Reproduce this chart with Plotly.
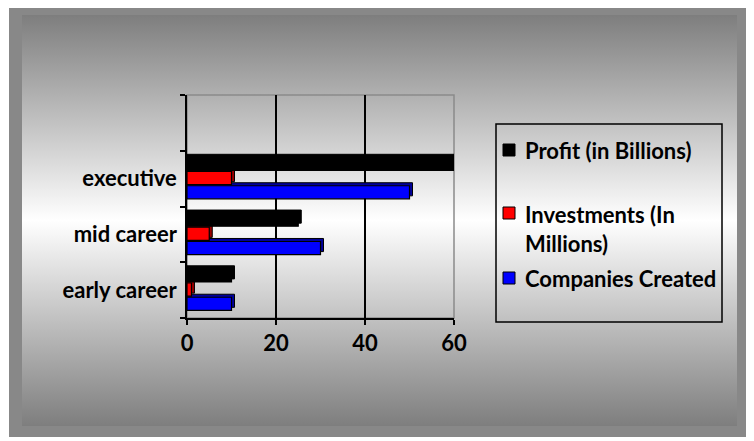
import base64
import plotly.graph_objects as go

# ---- data ----
categories = ["early career", "mid career", "executive", " "]
series_names = ["Companies Created", "Investments (In Millions)", "Profit (in Billions)"]
legend_labels = ["Companies Created", "Investments (In<br>Millions)", "Profit (in Billions)"]
companies = [10, 30, 50]
investments = [1, 5, 10]
profit = [10, 25, 60]
x_ticks = [0, 20, 40, 60]
colors = ["#0000ff", "#ff0000", "#000000"]
side_colors = ["#00009a", "#9a0000", "#000000"]

W, H = 754, 441
OFF = 8  # page body margin offset
L, R, T, B = 187 - OFF, 454 - OFF, 95 - OFF, 318 - OFF  # plot area in figure pixels

def px(x):
    return (x - OFF - L) / (R - L)

def py(y):
    return (B - (y - OFF)) / (B - T)

FONT = "Lato"
FS = 22

fx, fy = 9 - OFF, 4 - OFF
ix, iy = 22 - OFF, 15 - OFF
svg = f'''<svg xmlns="http://www.w3.org/2000/svg" width="{W}" height="{H}" viewBox="0 0 {W} {H}" preserveAspectRatio="none">
<defs><linearGradient id="g" x1="0" y1="0" x2="0" y2="1">
<stop offset="0" stop-color="#7e7e7e"/><stop offset="0.5" stop-color="#ffffff"/><stop offset="1" stop-color="#7e7e7e"/>
</linearGradient></defs>
<rect x="0" y="0" width="{W}" height="{H}" fill="#ffffff"/>
<rect x="{fx}" y="{fy}" width="739" height="433" fill="#888888"/>
<rect x="{ix}" y="{iy}" width="715" height="411" fill="url(#g)"/>
</svg>'''
src = "data:image/svg+xml;base64," + base64.b64encode(svg.encode()).decode()

# bar geometry (category units) and 3D depth
bar_w = 0.235
centers = [-0.245, 0.01, 0.265]
unit_px_x = (R - L) / 60.0
unit_px_y = (B - T) / 4.0
depth_x = 3.0 / unit_px_x
depth_y = 3.0 / unit_px_y

fig = go.Figure()
all_vals = [companies, investments, profit]
# depth (back) bars first
for name, vals, col, c in zip(series_names, all_vals, side_colors, centers):
    fig.add_trace(go.Bar(
        y=categories[:3], x=[v + depth_x for v in vals], name=name + " depth",
        orientation="h", width=bar_w, offset=c - bar_w / 2 + depth_y,
        marker=dict(color=col, line=dict(color="#000000", width=1)),
        showlegend=False, hoverinfo="skip",
    ))
for name, vals, col, c in zip(series_names, all_vals, colors, centers):
    fig.add_trace(go.Bar(
        y=categories[:3], x=vals, name=name, orientation="h",
        width=bar_w, offset=c - bar_w / 2,
        marker=dict(color=col, line=dict(color="#000000", width=1.2)),
        showlegend=False,
    ))

shapes = []
annotations = []
shapes.append(dict(type="rect", xref="paper", yref="paper", x0=0, y0=0, x1=1, y1=1,
                   line=dict(color="#8a8a8a", width=1.5), layer="between"))
shapes.append(dict(type="rect", xref="paper", yref="paper",
                   x0=px(496), x1=px(722), y0=py(124), y1=py(322),
                   line=dict(color="#000000", width=1.5), fillcolor="rgba(0,0,0,0)"))
legend_rows = [(2, 150), (1, 213), (0, 278)]
for idx, cy in legend_rows:
    shapes.append(dict(type="rect", xref="paper", yref="paper",
                       x0=px(503), x1=px(515), y0=py(cy - 6), y1=py(cy + 6),
                       line=dict(color="#000000", width=1), fillcolor=colors[idx]))
    if "<br>" in legend_labels[idx]:
        annotations.append(dict(x=px(523), y=py(cy - 14), xref="paper", yref="paper",
                                text="<b>" + legend_labels[idx] + "</b>", showarrow=False,
                                xanchor="left", yanchor="top", align="left",
                                font=dict(family=FONT, size=FS, color="#000000")))
    else:
        annotations.append(dict(x=px(523), y=py(cy), xref="paper", yref="paper",
                                text="<b>" + legend_labels[idx] + "</b>", showarrow=False,
                                xanchor="left", yanchor="middle", align="left",
                                font=dict(family=FONT, size=FS, color="#000000")))

fig.update_layout(
    width=W, height=H,
    margin=dict(l=L, r=W - R, t=T, b=H - B, pad=0),
    paper_bgcolor="#ffffff", plot_bgcolor="#c0c0c0",
    barmode="overlay",
    showlegend=False,
    font=dict(family=FONT, size=FS, color="#000000"),
    images=[dict(source=src, xref="paper", yref="paper", x=-L / (R - L), y=1 + T / (B - T),
                 sizex=W / (R - L), sizey=H / (B - T), xanchor="left", yanchor="top",
                 sizing="stretch", layer="below")],
    shapes=shapes, annotations=annotations,
    xaxis=dict(range=[0, 60], tickvals=x_ticks, ticktext=[f"<b>{v}</b>" for v in x_ticks],
               showgrid=True, gridcolor="#000000", gridwidth=1.5, zeroline=False,
               showline=True, linecolor="#000000", linewidth=1.5,
               ticks="outside", ticklen=5, tickwidth=1.5, tickcolor="#000000",
               tickfont=dict(family=FONT, size=FS), fixedrange=True),
    yaxis=dict(type="category", categoryorder="array", categoryarray=categories,
               range=[-0.5, 3.5], tickvals=categories,
               ticktext=[f"<b>{c}</b>" for c in categories],
               showgrid=False, zeroline=False,
               showline=True, linecolor="#000000", linewidth=1.5,
               ticks="outside", ticklen=5, tickwidth=1.5, tickcolor="#000000",
               tickson="boundaries", ticklabelstandoff=4,
               tickfont=dict(family=FONT, size=FS), fixedrange=True),
)

fig.write_html("out.html")
